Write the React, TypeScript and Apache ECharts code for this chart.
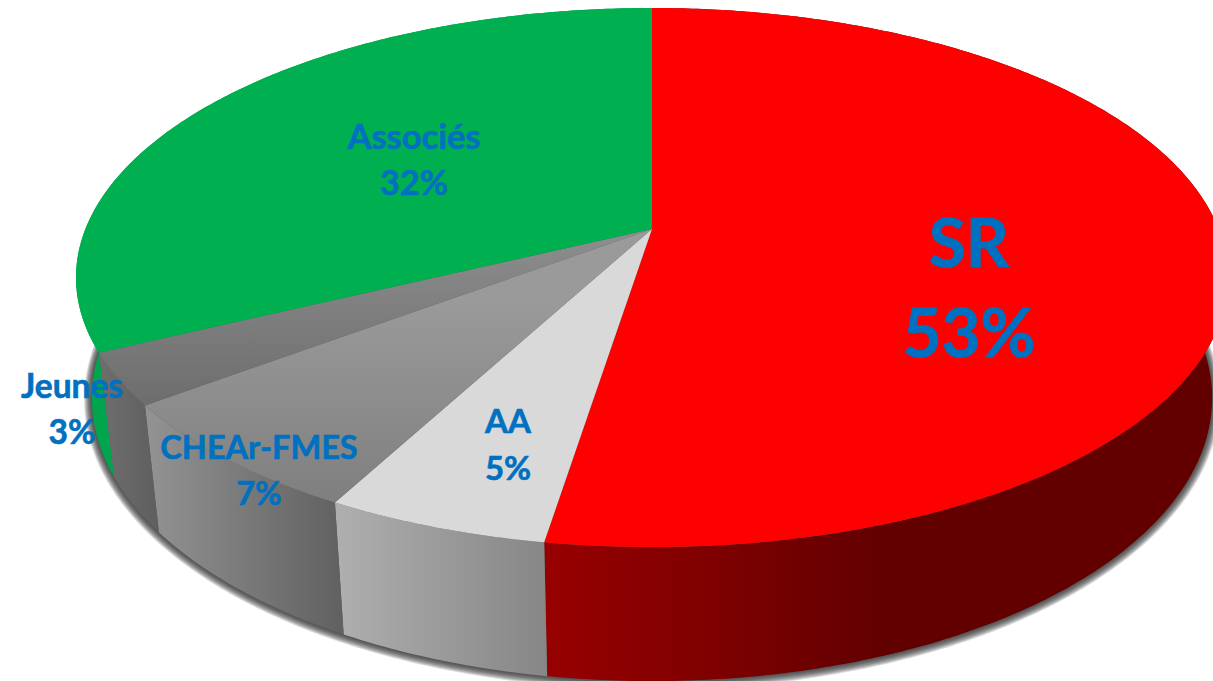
import React, { useEffect, useRef } from "react";
import * as echarts from "echarts";

// Data
const categories = ["SR", "AA", "CHEAr-FMES", "Jeunes", "Associés"];
const sliceShares = [52.5, 5.3, 6.9, 3.1, 32.2];
const shareLabels = ["53%", "5%", "7%", "3%", "32%"];

// Styling
const BLUE = "#0070C0";
const FONT = "Lato, Carlito, 'Open Sans', sans-serif";
const labelStyle = [
  { x: 969, y: 241, dy: 90, size: 67, stroke: 1 },
  { x: 508, y: 420, dy: 47, size: 33, stroke: 0.6 },
  { x: 259, y: 446, dy: 46, size: 32.5, stroke: 0.6 },
  { x: 72, y: 385, dy: 46, size: 33.5, stroke: 0.6 },
  { x: 414, y: 135, dy: 46, size: 34.5, stroke: 0.6 },
];
const lin = (x1: number, y1: number, x2: number, y2: number, stops: [number, string][]) =>
  new echarts.graphic.LinearGradient(
    x1, y1, x2, y2,
    stops.map(([offset, color]) => ({ offset, color })),
    true
  );
const topFill = [
  "#FF0000",
  "#D9D9D9",
  lin(0, 300, 0, 510, [[0, "#9a9a9a"], [1, "#7e7e7e"]]),
  lin(0, 240, 0, 410, [[0, "#8c8c8c"], [1, "#6c6c6c"]]),
  "#00B050",
];
const wallFill = [
  lin(545, 0, 880, 0, [[0, "#970000"], [0.5, "#7f0000"], [1, "#620000"]]),
  lin(340, 0, 548, 0, [[0, "#aeaeae"], [1, "#868686"]]),
  lin(150, 0, 340, 0, [[0, "#929292"], [1, "#616161"]]),
  lin(100, 0, 160, 0, [[0, "#6e6e6e"], [1, "#5e5e5e"]]),
  "#00A54E",
];

// Perspective planes of the disc: top face and bottom face
const TOP = { cx: 652, cy: 229, a: 566.6, b: 260.8, k: 0.18 };
const BOTTOM = { cx: 652, cy: 347, a: 551, b: 274, k: 0.18 };
// Soft shadow under the disc, built from stacked translucent outlines
const haloGrowth = [8, 7, 6, 5, 4, 3, 2, 1];

type Plane = typeof TOP;
const project = (p: Plane, share: number): number[] => {
  const t = (share / 100) * Math.PI * 2;
  const u = Math.sin(t);
  const v = -Math.cos(t);
  const w = 1 - p.k * v;
  return [p.cx + (p.a * u) / w, p.cy + (p.b * v) / w];
};
const arc = (p: Plane, from: number, to: number): number[][] => {
  const n = Math.max(2, Math.ceil((to - from) * 6));
  const pts: number[][] = [];
  for (let i = 0; i <= n; i++) pts.push(project(p, from + ((to - from) * i) / n));
  return pts;
};
const starts = sliceShares.map((_, i) =>
  sliceShares.slice(0, i).reduce((s, v) => s + v, 0)
);

export default function App() {
  const ref = useRef<HTMLDivElement>(null);
  useEffect(() => {
    document.body.style.margin = "0";
    const chart = echarts.init(ref.current!, undefined, { renderer: "svg" });
    const data = sliceShares.map((v, i) => ({ name: categories[i], value: [starts[i], v] }));
    chart.setOption({
      animation: false,
      backgroundColor: "#fff",
      series: [
        {
          type: "custom",
          coordinateSystem: "none",
          silent: true,
          z: 1,
          data: haloGrowth.map((g) => ({ name: "shadow", value: [g] })),
          renderItem: (_: any, api: any) => {
            const g = api.value(0);
            const plane = { ...BOTTOM, cy: BOTTOM.cy + 0.3, a: BOTTOM.a + g * 0.95, b: BOTTOM.b + g * 0.85 };
            return {
              type: "polygon",
              shape: { points: arc(plane, 0, 100) },
              style: { fill: "rgba(40,40,40,0.17)" },
            };
          },
        },
        {
          type: "custom",
          coordinateSystem: "none",
          silent: true,
          z: 2,
          data,
          renderItem: (params: any, api: any) => {
            const a = api.value(0);
            const b = a + api.value(1);
            return {
              type: "polygon",
              shape: { points: [...arc(TOP, a, b), ...arc(BOTTOM, a, b).reverse()] },
              style: { fill: wallFill[params.dataIndex] },
            };
          },
        },
        {
          type: "custom",
          coordinateSystem: "none",
          silent: true,
          z: 3,
          data,
          renderItem: (params: any, api: any) => {
            const a = api.value(0);
            const b = a + api.value(1);
            return {
              type: "polygon",
              shape: { points: [[TOP.cx, TOP.cy], ...arc(TOP, a, b)] },
              style: { fill: topFill[params.dataIndex] },
            };
          },
        },
        {
          type: "custom",
          coordinateSystem: "none",
          silent: true,
          z: 4,
          data,
          renderItem: (params: any) => {
            const i = params.dataIndex;
            const s = labelStyle[i];
            const text = (t: string, y: number) => ({
              type: "text",
              style: {
                text: t,
                x: s.x,
                y,
                fill: BLUE,
                stroke: BLUE,
                lineWidth: s.stroke,
                fontSize: s.size,
                fontWeight: 700,
                fontFamily: FONT,
                align: "center",
                verticalAlign: "middle",
              },
            });
            return {
              type: "group",
              children: [text(categories[i], s.y), text(shareLabels[i], s.y + s.dy)],
            };
          },
        },
      ],
    });
    return () => chart.dispose();
  }, []);
  return <div ref={ref} style={{ width: 1213, height: 681, position: "absolute", left: 0, top: 0, overflow: "hidden" }} />;
}
